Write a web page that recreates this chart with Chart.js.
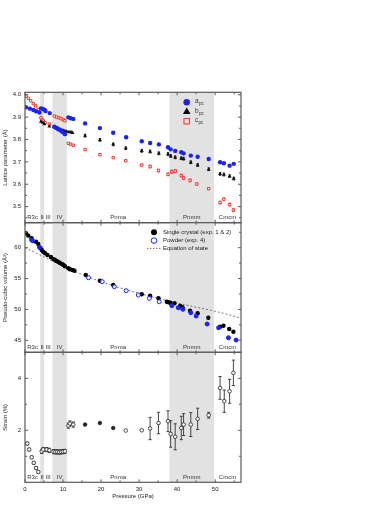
<!DOCTYPE html>
<html><head><meta charset="utf-8">
<script src="https://cdn.jsdelivr.net/npm/chart.js@4/dist/chart.umd.min.js"></script>
<style>
html,body{margin:0;padding:0;background:#fff}
#wrap{position:relative;width:390px;height:505px}
canvas{position:absolute;left:0;top:0}
</style></head><body>
<div id="wrap">
<canvas id="c1" width="390" height="505"></canvas>
<canvas id="c2" width="390" height="505"></canvas>
<canvas id="c3" width="390" height="505"></canvas>
</div>
<script>
// ---------- data ----------
const xTicks = [0, 10, 20, 30, 40, 50];
const xMinorTicks = [5, 15, 25, 35, 45, 55];
const phaseNames = ['R3c', 'II', 'III', 'IV', 'Pnma', 'Pnmm', 'Cmcm'];
const phaseBounds = [0, 4, 5, 7.2, 11, 38, 49.7, 56.8];
const shadedPhases = [1, 3, 5];

// lattice parameters (Å)
const aP = [0.26,1.3,2.2,2.9,3.8,4.2,4.7,5.1,5.4,6.5,7.7,8.2,8.6,9.0,9.5,9.9,10.5,11.4,12.0,12.7,15.8,19.7,23.2,26.6,30.7,32.9,35.2,37.6,38.3,39.5,41.1,41.7,43.6,45.4,48.3,51.3,52.3,53.8,54.9];
const aPc = [3.944,3.938,3.932,3.926,3.921,3.939,3.937,3.933,3.927,3.918,3.857,3.853,3.848,3.844,3.839,3.833,3.824,3.899,3.895,3.892,3.872,3.851,3.830,3.810,3.792,3.784,3.778,3.765,3.756,3.749,3.743,3.738,3.728,3.723,3.713,3.698,3.694,3.683,3.691];
const bP = [4.2,4.7,5.1,6.4,7.7,7.9,8.3,8.8,9.2,9.7,10.1,10.5,11.0,11.6,12.1,12.5,15.8,19.7,23.2,26.5,30.7,32.9,35.2,37.6,38.3,39.5,41.1,41.7,43.6,45.4,48.3,51.3,52.3,53.8,54.9];
const bPc = [3.880,3.875,3.869,3.859,3.856,3.853,3.850,3.848,3.845,3.842,3.839,3.838,3.835,3.833,3.833,3.830,3.817,3.798,3.778,3.761,3.749,3.746,3.738,3.735,3.726,3.720,3.716,3.714,3.698,3.686,3.667,3.646,3.643,3.636,3.625];
const bErr = [0,0,0,0,0,0,0,0,0,0,0,0,0,0,0,0,0.006,0.006,0.006,0.006,0.006,0.006,0.006,0.006,0.006,0.006,0.006,0.006,0.006,0.006,0.006,0.006,0.006,0.006,0.006];
const cP = [0.26,0.88,1.49,2.19,2.8,3.5,4.2,4.47,4.8,5.26,6.4,7.7,8.3,8.9,9.5,10.1,10.5,11.4,12.0,12.7,15.8,19.7,23.2,26.5,30.7,32.9,35.1,37.6,38.6,39.5,41.1,41.7,43.4,45.2,48.3,51.3,52.3,53.8,54.8];
const cPc = [3.994,3.984,3.973,3.960,3.950,3.935,3.897,3.888,3.883,3.875,3.869,3.905,3.900,3.897,3.893,3.888,3.884,3.783,3.779,3.774,3.755,3.732,3.719,3.705,3.686,3.679,3.661,3.644,3.656,3.659,3.639,3.627,3.617,3.601,3.580,3.518,3.533,3.509,3.484];
const cErr = [0,0,0,0,0,0,0,0,0,0,0,0,0,0,0,0,0,0,0,0,0,0,0,0,0.004,0.006,0.006,0.006,0.007,0.007,0.006,0.006,0.006,0.006,0.004,0.006,0.006,0.006,0.006];

// pseudo-cubic volume (Å^3)
const scP = [0.26,0.88,1.75,2.9,3.5,4.1,4.4,4.8,5.3,5.9,6.8,7.5,7.9,8.3,8.8,9.2,9.7,10.1,10.5,11.4,11.8,12.5,13.0,16.0,19.7,23.2,30.7,32.9,35.1,37.3,37.7,38.2,39.3,40.8,41.4,43.4,45.4,48.2,51.3,52.2,53.7,54.8];
const scV = [62.33,61.95,61.52,60.97,60.6,59.9,59.63,59.35,59.09,58.82,58.49,58.12,58.0,57.84,57.68,57.52,57.36,57.2,56.99,56.66,56.5,56.39,56.27,55.58,54.65,53.95,52.45,52.22,51.8,51.25,51.15,51.09,50.99,50.55,50.34,49.79,49.37,48.65,47.2,47.36,46.82,46.39];
const pwP = [1.75,2.0,3.8,16.7,20.3,23.5,26.6,29.8,32.7,35.3,38.6,40.3,41.5,43.6,45.0,47.9,50.9,53.5,55.5];
const pwV = [61.25,61.13,60.07,55.14,54.49,53.68,53.03,52.33,51.8,51.25,50.6,50.28,50.02,49.47,48.93,47.63,47.03,45.41,45.04];
const eosP = [0,5,10,15,20,25,30,35,40,45,50,56.8];
const eosV = [60.0,58.5,57.05,55.65,54.5,53.5,52.6,51.8,51.05,50.35,49.7,48.6];

// strain (%)
const stP = [0.6,1.1,1.75,2.3,2.9,3.5,4.4,4.8,5.7,6.4,7.5,8.0,8.5,9.0,9.5,10.0,10.5,11.4,11.8,12.7,15.8,19.7,23.2,26.5,30.7,32.9,35.1,37.6,38.3,39.5,41.1,41.7,43.6,45.4,48.3,51.3,52.4,53.8,54.8];
const stV = [1.49,1.26,0.96,0.75,0.55,0.4,1.19,1.26,1.26,1.23,1.18,1.17,1.17,1.16,1.17,1.18,1.19,2.18,2.26,2.22,2.22,2.28,2.09,1.99,2.0,2.07,2.28,2.35,1.86,1.75,2.09,2.22,2.22,2.44,2.58,3.63,3.12,3.5,4.21];
const stErr = [0.05,0.05,0.05,0.05,0.05,0.05,0.08,0.08,0.08,0.08,0.08,0.08,0.08,0.08,0.08,0.08,0.08,0.1,0.1,0.1,0,0,0,0,0,0.43,0.41,0.40,0.51,0.5,0.45,0.42,0.46,0.41,0.11,0.44,0.43,0.46,0.49];

// ---------- styling / helpers ----------
const FONT = {family:'"Liberation Sans", Arial, sans-serif', size:6};
const TXT = '#222';
const AXIS = '#5a5a5a';
const BLUE = 'rgb(25,35,245)';
const RED = 'rgb(245,55,55)';
const X_MIN = 0, X_MAX = 56.8;
const pts = (P, V) => P.map((p, i) => ({x: p, y: V[i]}));

function subText(ctx, x, y, main, sub) {
  ctx.font = '6.5px "Liberation Sans", Arial, sans-serif';
  ctx.textAlign = 'left'; ctx.textBaseline = 'middle';
  ctx.fillText(main, x, y);
  const w = ctx.measureText(main).width;
  ctx.font = '4.5px "Liberation Sans", Arial, sans-serif';
  ctx.fillText(sub, x + w + 0.3, y + 2.5);
}

function panelPlugin(cfg) {
  return {
    id: 'panel' + cfg.id,
    beforeDatasetsDraw(chart) {
      const {ctx, chartArea: a, scales: {x, y}} = chart;
      ctx.save();
      ctx.fillStyle = '#e2e2e2';
      shadedPhases.forEach(i => {
        const x0 = x.getPixelForValue(phaseBounds[i]);
        const x1 = x.getPixelForValue(phaseBounds[i + 1]);
        ctx.fillRect(x0, a.top, x1 - x0, a.bottom - a.top);
      });
      (cfg.errorBars || []).forEach(eb => {
        ctx.strokeStyle = eb.color; ctx.lineWidth = 0.9;
        eb.P.forEach((p, k) => {
          const e = eb.E[k]; if (!e) return;
          const px = x.getPixelForValue(p);
          const y0 = y.getPixelForValue(eb.V[k] - e), y1 = y.getPixelForValue(eb.V[k] + e);
          ctx.beginPath();
          ctx.moveTo(px, y0); ctx.lineTo(px, y1);
          ctx.moveTo(px - eb.cap, y0); ctx.lineTo(px + eb.cap, y0);
          ctx.moveTo(px - eb.cap, y1); ctx.lineTo(px + eb.cap, y1);
          ctx.stroke();
        });
      });
      ctx.restore();
    },
    afterDraw(chart) {
      const {ctx, chartArea: a, scales: {x, y}} = chart;
      ctx.save();
      ctx.strokeStyle = AXIS; ctx.lineWidth = 1.2;
      ctx.strokeRect(a.left, a.top, a.right - a.left, a.bottom - a.top);
      ctx.lineWidth = 1;
      ctx.beginPath();
      xTicks.forEach(v => { const px = x.getPixelForValue(v);
        ctx.moveTo(px, a.top); ctx.lineTo(px, a.top + 3);
        ctx.moveTo(px, a.bottom); ctx.lineTo(px, a.bottom - 3); });
      xMinorTicks.forEach(v => { const px = x.getPixelForValue(v);
        ctx.moveTo(px, a.top); ctx.lineTo(px, a.top + 2);
        ctx.moveTo(px, a.bottom); ctx.lineTo(px, a.bottom - 2); });
      cfg.yTicks.forEach(v => { const py = y.getPixelForValue(v);
        ctx.moveTo(a.left, py); ctx.lineTo(a.left + 3, py);
        ctx.moveTo(a.right, py); ctx.lineTo(a.right - 3, py); });
      cfg.yMinor.forEach(v => { const py = y.getPixelForValue(v);
        ctx.moveTo(a.left, py); ctx.lineTo(a.left + 2, py);
        ctx.moveTo(a.right, py); ctx.lineTo(a.right - 2, py); });
      ctx.stroke();
      // phase labels
      ctx.fillStyle = '#333';
      ctx.font = '6px "Liberation Sans", Arial, sans-serif';
      ctx.textAlign = 'center'; ctx.textBaseline = 'middle';
      phaseNames.forEach((n, i) => {
        const px = x.getPixelForValue((phaseBounds[i] + phaseBounds[i + 1]) / 2);
        ctx.fillText(n, px, a.bottom - 5);
      });
      if (cfg.legend) cfg.legend(ctx, a);
      ctx.restore();
    }
  };
}

function makePanel(id, cfg) {
  return new Chart(document.getElementById(id), {
    type: 'scatter',
    data: {datasets: cfg.datasets},
    options: {
      responsive: false, animation: false, devicePixelRatio: 1,
      layout: {padding: {left: 0, right: 149, top: cfg.top, bottom: cfg.bottom}},
      plugins: {legend: {display: false}, tooltip: {enabled: false}},
      scales: {
        x: {
          type: 'linear', min: X_MIN, max: X_MAX, display: cfg.showX,
          grid: {display: false, drawTicks: false}, border: {display: false},
          afterBuildTicks: s => { s.ticks = xTicks.map(v => ({value: v})); },
          afterFit: s => { s.height = cfg.xHeight; },
          ticks: {padding: 3, font: FONT, color: TXT, callback: v => String(v)},
          title: {display: cfg.showX, text: 'Pressure (GPa)', font: FONT, color: TXT, padding: {top: 0, bottom: 5}}
        },
        y: {
          type: 'linear', min: cfg.ymin, max: cfg.ymax, position: 'left',
          grid: {display: false, drawTicks: false}, border: {display: false},
          afterBuildTicks: s => { s.ticks = cfg.yTicks.map(v => ({value: v})); },
          afterFit: s => { s.width = 25; },
          ticks: {padding: 4, font: FONT, color: TXT, callback: cfg.fmt},
          title: {display: true, text: cfg.title, font: FONT, color: TXT, padding: {top: 2, bottom: 0}}
        }
      }
    },
    plugins: [panelPlugin(cfg)]
  });
}

// ---------- panel 1: lattice parameters ----------
makePanel('c1', {
  id: 1, top: 92.3, bottom: 282.3, showX: false, xHeight: 0,
  ymin: 3.428, ymax: 4.011,
  yTicks: [3.5, 3.6, 3.7, 3.8, 3.9, 4.0],
  yMinor: [3.45, 3.55, 3.65, 3.75, 3.85, 3.95],
  fmt: v => Number(v).toFixed(1),
  title: 'Lattice parameter (Å)',
  errorBars: [
    {P: bP, V: bPc, E: bErr, color: '#111', cap: 1.2},
    {P: cP, V: cPc, E: cErr, color: RED, cap: 1.2}
  ],
  datasets: [
    {label: 'a_pc', data: pts(aP, aPc), pointStyle: 'circle', pointRadius: 2.2, backgroundColor: BLUE, borderColor: BLUE, borderWidth: 0, order: 1},
    {label: 'b_pc', data: pts(bP, bPc), pointStyle: 'triangle', pointRadius: 2.3, backgroundColor: '#111', borderColor: '#111', borderWidth: 0, order: 2},
    {label: 'c_pc', data: pts(cP, cPc), pointStyle: 'rect', pointRadius: 1.7, backgroundColor: '#fff', borderColor: RED, borderWidth: 1, order: 3}
  ],
  legend(ctx, a) {
    const lx = 186.7;
    ctx.fillStyle = BLUE; ctx.beginPath(); ctx.arc(lx, 102.3, 3.3, 0, Math.PI * 2); ctx.fill();
    ctx.fillStyle = '#000'; ctx.beginPath(); ctx.moveTo(lx, 107.5); ctx.lineTo(lx + 3.8, 114); ctx.lineTo(lx - 3.8, 114); ctx.closePath(); ctx.fill();
    ctx.strokeStyle = RED; ctx.lineWidth = 1.1; ctx.strokeRect(lx - 2.7, 118.5, 5.4, 5.4);
    ctx.fillStyle = '#333';
    subText(ctx, 195, 101.3, 'a', 'pc');
    subText(ctx, 195, 110.8, 'b', 'pc');
    subText(ctx, 195, 120.5, 'c', 'pc');
  }
});

// ---------- panel 2: pseudo-cubic volume ----------
makePanel('c2', {
  id: 2, top: 222.7, bottom: 152.7, showX: false, xHeight: 0,
  ymin: 43.05, ymax: 64.05,
  yTicks: [45, 50, 55, 60],
  yMinor: [47.5, 52.5, 57.5, 62.5],
  fmt: v => String(v),
  title: 'Pseudo-cubic volume (Å³)',
  datasets: [
    {label: 'Single crystal (exp. 1 & 2)', data: pts(scP, scV), pointStyle: 'circle', pointRadius: 2.2, backgroundColor: '#000', borderColor: '#000', borderWidth: 0, order: 2},
    {label: 'Powder (exp. 4)', data: pts(pwP, pwV), pointStyle: 'circle', pointRadius: 2, borderColor: BLUE, borderWidth: 1,
      backgroundColor: c => (c.raw && (c.raw.x < 5 || c.raw.x > 37)) ? BLUE : 'rgba(255,255,255,0.8)', order: 1},
    {label: 'Equation of state', data: pts(eosP, eosV), showLine: true, pointRadius: 0, borderColor: '#555', borderWidth: 0.8,
      borderDash: [2, 2], tension: 0.4, cubicInterpolationMode: 'monotone', order: 3}
  ],
  legend(ctx, a) {
    ctx.fillStyle = '#000'; ctx.beginPath(); ctx.arc(154, 232.3, 3, 0, Math.PI * 2); ctx.fill();
    ctx.strokeStyle = BLUE; ctx.lineWidth = 1; ctx.beginPath(); ctx.arc(154, 240.6, 2.8, 0, Math.PI * 2); ctx.stroke();
    ctx.strokeStyle = '#555'; ctx.lineWidth = 0.8; ctx.setLineDash([1.5, 1.5]);
    ctx.beginPath(); ctx.moveTo(147, 248.4); ctx.lineTo(161, 248.4); ctx.stroke(); ctx.setLineDash([]);
    ctx.fillStyle = '#222'; ctx.font = '6px "Liberation Sans", Arial, sans-serif';
    ctx.textAlign = 'left'; ctx.textBaseline = 'middle';
    ctx.fillText('Single crystal (exp. 1 & 2)', 163, 232.3);
    ctx.fillText('Powder (exp. 4)', 163, 240.6);
    ctx.fillText('Equation of state', 163, 248.4);
  }
});

// ---------- panel 3: strain ----------
makePanel('c3', {
  id: 3, top: 352.3, bottom: 0, showX: true, xHeight: 22.7,
  ymin: 0, ymax: 5,
  yTicks: [2, 4],
  yMinor: [1, 3, 5],
  fmt: v => String(v),
  title: 'Strain (%)',
  errorBars: [{P: stP, V: stV, E: stErr, color: '#333', cap: 1.6}],
  datasets: [
    {label: 'Strain', data: pts(stP, stV), pointStyle: 'circle', pointRadius: 1.8, borderColor: '#222', borderWidth: 0.8,
      backgroundColor: c => (c.raw && c.raw.x > 13 && c.raw.x < 25) ? '#222' : '#fff'}
  ]
});
</script>
</body></html>
